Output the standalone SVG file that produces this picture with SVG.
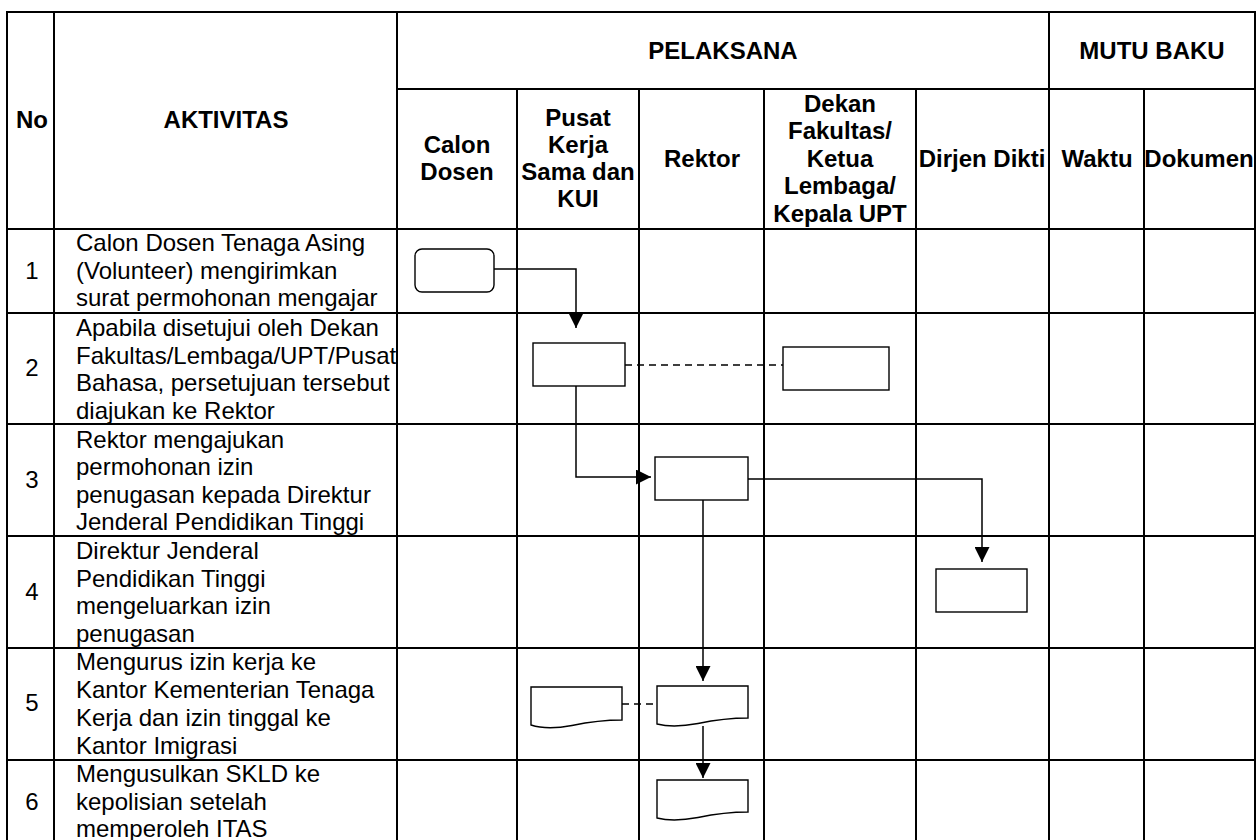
<svg xmlns="http://www.w3.org/2000/svg" width="1257" height="840" viewBox="0 0 1257 840">
<style>
text{font-family:"Liberation Sans",Arial,sans-serif;font-size:24px;fill:#000}
.h{font-weight:bold;text-anchor:middle}
.n{text-anchor:middle}
.g{stroke:#000;stroke-width:2;fill:none}
.s{fill:#fff;stroke:#000;stroke-width:1.4}
.c{fill:none;stroke:#000;stroke-width:1.5}
.d{fill:none;stroke:#000;stroke-width:1.5;stroke-dasharray:7 5}
</style>
<defs>
<marker id="arr" markerUnits="userSpaceOnUse" markerWidth="15" markerHeight="15" refX="15" refY="7.5" orient="auto">
<path d="M0,0 L15,7.5 L0,15 Z" fill="#000"/>
</marker>
</defs>
<rect width="1257" height="840" fill="#fff"/>
<g id="grid" class="g">
<path d="M7,840 V12 H1255 V840"/>
<path d="M54,12 V840 M397,12 V840 M1049,12 V840"/>
<path d="M517,89 V840 M639,89 V840 M764,89 V840 M916,89 V840 M1144,89 V840"/>
<path d="M397,89 H1255"/>
<path d="M7,229 H1255 M7,313 H1255 M7,424 H1255 M7,536 H1255 M7,648 H1255 M7,760 H1255"/>
</g>
<g id="header">
<text class="h" x="32" y="128">No</text>
<text class="h" x="226" y="128">AKTIVITAS</text>
<text class="h" x="723" y="59">PELAKSANA</text>
<text class="h" x="1152" y="59">MUTU BAKU</text>
<text class="h" x="457" y="153">Calon</text>
<text class="h" x="457" y="180">Dosen</text>
<text class="h" x="578" y="126">Pusat</text>
<text class="h" x="578" y="153">Kerja</text>
<text class="h" x="578" y="180">Sama dan</text>
<text class="h" x="578" y="207">KUI</text>
<text class="h" x="702" y="167">Rektor</text>
<text class="h" x="840" y="112">Dekan</text>
<text class="h" x="840" y="139">Fakultas/</text>
<text class="h" x="840" y="167">Ketua</text>
<text class="h" x="840" y="194">Lembaga/</text>
<text class="h" x="840" y="222">Kepala UPT</text>
<text class="h" x="982" y="167">Dirjen Dikti</text>
<text class="h" x="1097" y="167">Waktu</text>
<text class="h" x="1199" y="167">Dokumen</text>
</g>
<g id="numbers">
<text class="n" x="32" y="279">1</text>
<text class="n" x="32" y="376">2</text>
<text class="n" x="32" y="488">3</text>
<text class="n" x="32" y="600">4</text>
<text class="n" x="32" y="711">5</text>
<text class="n" x="32" y="810">6</text>
</g>
<g id="activities">
<text x="76" y="251">Calon Dosen Tenaga Asing</text>
<text x="76" y="278.5">(Volunteer) mengirimkan</text>
<text x="76" y="306">surat permohonan mengajar</text>
<text x="76" y="336">Apabila disetujui oleh Dekan</text>
<text x="76" y="363.5">Fakultas/Lembaga/UPT/Pusat</text>
<text x="76" y="391">Bahasa, persetujuan tersebut</text>
<text x="76" y="418.5">diajukan ke Rektor</text>
<text x="76" y="447.5">Rektor mengajukan</text>
<text x="76" y="475">permohonan izin</text>
<text x="76" y="502.5">penugasan kepada Direktur</text>
<text x="76" y="530">Jenderal Pendidikan Tinggi</text>
<text x="76" y="559">Direktur Jenderal</text>
<text x="76" y="586.5">Pendidikan Tinggi</text>
<text x="76" y="614">mengeluarkan izin</text>
<text x="76" y="641.5">penugasan</text>
<text x="76" y="670">Mengurus izin kerja ke</text>
<text x="76" y="698">Kantor Kementerian Tenaga</text>
<text x="76" y="726">Kerja dan izin tinggal ke</text>
<text x="76" y="753.5">Kantor Imigrasi</text>
<text x="76" y="782">Mengusulkan SKLD ke</text>
<text x="76" y="809.5">kepolisian setelah</text>
<text x="76" y="837">memperoleh ITAS</text>
</g>
<g id="connectors">
<path class="c" d="M494,269 H576 V328" marker-end="url(#arr)"/>
<path class="d" d="M625,365 H783"/>
<path class="c" d="M576,386 V477 H651" marker-end="url(#arr)"/>
<path class="c" d="M748,479 H982 V562" marker-end="url(#arr)"/>
<path class="c" d="M703,500 V681" marker-end="url(#arr)"/>
<path class="d" d="M622,704 H657"/>
<path class="c" d="M703,726 V778" marker-end="url(#arr)"/>
</g>
<g id="n1"><rect class="s" x="415" y="249" width="79" height="43" rx="7"/></g>
<g id="n2a"><rect class="s" x="533" y="343" width="92" height="43"/></g>
<g id="n2b"><rect class="s" x="783" y="347" width="106" height="43"/></g>
<g id="n3"><rect class="s" x="655" y="457" width="93" height="43"/></g>
<g id="n4"><rect class="s" x="936" y="569" width="91" height="43"/></g>
<g id="n5a"><path class="s" d="M531,687 H622 V720 C600,720 584,723 572,725.5 C556,728.5 543,729 531,725 Z"/></g>
<g id="n5b"><path class="s" d="M657,686 H748 V718 C726,718 710,721 698,723.5 C682,726.5 669,727 657,724 Z"/></g>
<g id="n6"><path class="s" d="M657,780 H748 V812 C726,812 710,815 698,817.5 C682,820.5 669,821 657,818 Z"/></g>
</svg>
